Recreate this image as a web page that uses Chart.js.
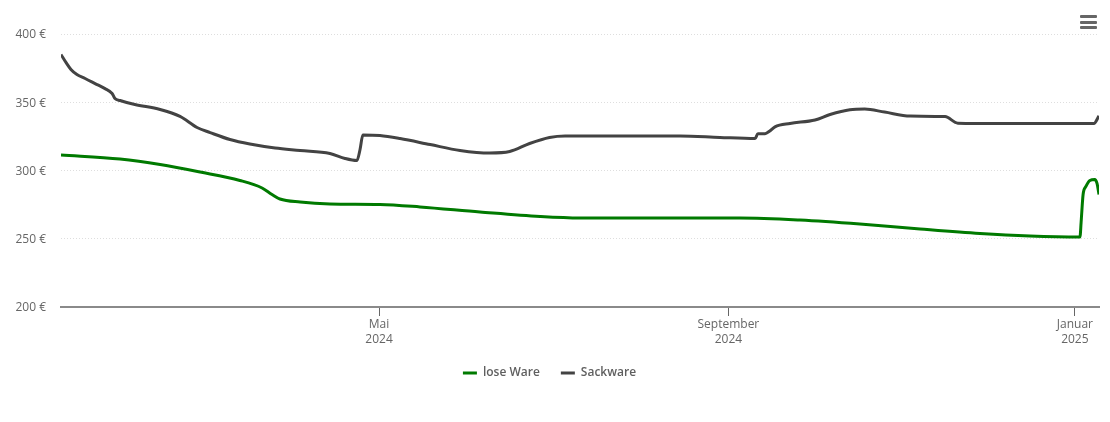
<!DOCTYPE html>
<html><head><meta charset="utf-8">
<script src="https://cdn.jsdelivr.net/npm/chart.js@4"></script>
<style>
html,body{margin:0;padding:0;background:#fff;}
#wrap{position:relative;width:1110px;height:422px;overflow:hidden;}
#menu{position:absolute;left:1080px;top:15px;width:17px;}
#menu i{display:block;height:3px;background:#666;border-radius:1px;margin-bottom:2.5px;}
</style></head>
<body>
<div id="wrap"><canvas id="c" width="1110" height="422"></canvas>
<div id="menu"><i></i><i></i><i></i></div></div>
<script>
// x values: days since 2024-01-10
const tickDays = [112, 235, 357];
const tickLabels = [["Mai","2024"],["September","2024"],["Januar","2025"]];
const yTicks = [200,250,300,350,400];
const seriesNames = ["lose Ware","Sackware"];

const loseDays = [0,20.8,34.9,49,63,70.8,74.3,77.1,84.2,94.7,112.3,126.4,147.5,168.7,182.7,207.4,239,260.2,281.3,302.5,323.6,341.2,358.8,359.2,359.9,360.9,362.3,364,364.8,365.5];
const loseVals = [311.4,308.4,304.4,298.9,292.7,287.2,282.4,279.1,276.9,275.5,275.1,273.3,269.6,266.3,265.2,265.2,265.2,263.7,260.8,257.1,253.8,252,251.3,262,282.4,288.3,292.7,293.4,290.5,282.4];

const sackDays = [0,1.8,3.5,5.6,8.5,12,15.5,18,19,20.8,26,34.9,41.9,47.9,52.5,59.5,66.5,75.4,84.2,94.7,100,104.2,105.3,106.3,112.3,119.4,130,140.5,151,158,165,172,177.5,189.8,218,232,244.4,245.4,247.9,249.6,251.4,256.7,265.5,270.8,277.8,283,290,299,311.3,315.8,330.6,363.7,365.5];
const sackVals = [385,379,374,370.3,367.4,363.7,360,356.4,352.7,351.3,348.4,344.7,339.6,331.5,327.8,322.7,319.4,316.5,314.7,312.5,308.8,307.3,315.4,326,325.6,323.4,319,314.7,312.8,313.9,319.8,324.2,325.3,325.3,325.3,324.2,323.4,327,327,329,332,334.5,337,341,344.5,345,342.8,339.9,339.5,334.7,334.4,334.4,340];

const zip = (xs,ys)=>xs.map((x,i)=>({x,y:ys[i]}));
const common = {borderWidth:3,pointRadius:0,fill:false,cubicInterpolationMode:'monotone',borderCapStyle:'butt',borderJoinStyle:'round'};
const font = {family:'"Open Sans"',size:12};

// nudges the y tick labels down by one pixel, as in the reference
const nudgeY = {id:'nudgeY',beforeDraw(c){
  const s=c.scales.y;
  if(s._nudged) return;
  s._nudged=true;
  const orig=s.drawLabels;
  s.drawLabels=function(a){c.ctx.save();c.ctx.translate(0,1);orig.call(this,a);c.ctx.restore();};
}};

new Chart(document.getElementById('c'),{
  type:'line',
  data:{datasets:[
    {...common,label:seriesNames[0],data:zip(loseDays,loseVals),borderColor:'#007a00',backgroundColor:'#007a00'},
    {...common,label:seriesNames[1],data:zip(sackDays,sackVals),borderColor:'#434343',backgroundColor:'#434343'}
  ]},
  options:{
    responsive:false,animation:false,
    layout:{padding:{top:34,right:11,bottom:33,left:0}},
    plugins:{
      tooltip:{enabled:false},
      legend:{position:'bottom',onClick:null,
        labels:{boxWidth:14,boxHeight:3,padding:21,color:'#5f5f5f',font:{...font,weight:'600'},
          generateLabels:ch=>Chart.defaults.plugins.legend.labels.generateLabels(ch).map(l=>({...l,lineWidth:0}))}}
    },
    scales:{
      x:{type:'linear',min:0,max:365.5,
        afterBuildTicks:a=>{a.ticks=tickDays.map(v=>({value:v}));},
        afterFit:a=>{a.height=39;},
        ticks:{autoSkip:false,maxRotation:0,padding:1,color:'#666',font:{...font,lineHeight:1.25},
          callback:v=>tickLabels[tickDays.indexOf(v)]},
        border:{display:true,color:'#8a8a8a',width:2},
        grid:{drawOnChartArea:false,drawTicks:true,tickLength:9,color:'#666',lineWidth:1}
      },
      y:{type:'linear',min:200,max:400,
        afterBuildTicks:a=>{a.ticks=yTicks.map(v=>({value:v}));},
        afterFit:a=>{a.width=61;},
        ticks:{padding:15,color:'#666',font,callback:v=>v+' €'},
        border:{display:false,dash:[1,2]},
        grid:{color:'#dedede',lineWidth:1,drawTicks:false,tickLength:0}
      }
    }
  },
  plugins:[nudgeY]
});
</script>
</body></html>
